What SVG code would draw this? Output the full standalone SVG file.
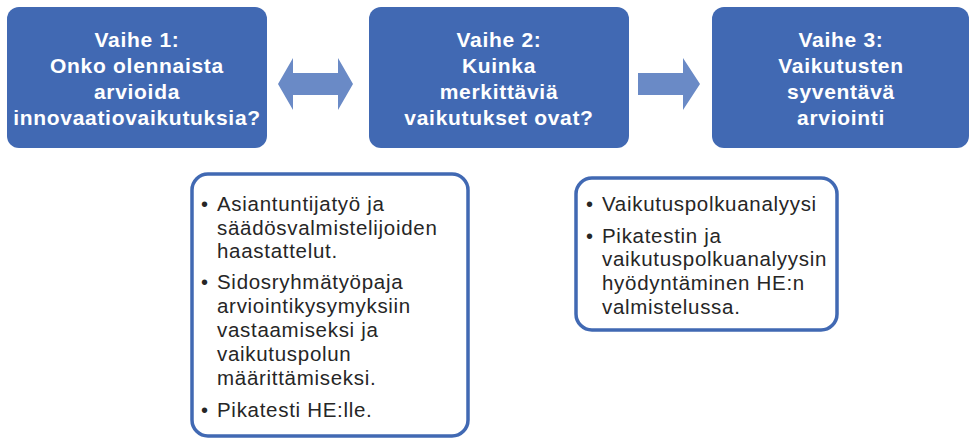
<svg xmlns="http://www.w3.org/2000/svg" width="969" height="439" viewBox="0 0 969 439">
<style>
.phase{fill:#4169b3;}
.ptxt{font-family:"Liberation Sans",Arial,sans-serif;font-weight:700;font-size:21px;fill:#ffffff;text-anchor:middle;letter-spacing:0.7px;}
.arrow{fill:#6a8ac6;}
.note{fill:#ffffff;stroke:#4169b3;stroke-width:3.5;}
.ntxt{font-family:"Liberation Sans",Arial,sans-serif;font-size:20.5px;fill:#262626;letter-spacing:0.7px;}
.bul{font-family:"Liberation Sans",Arial,sans-serif;font-size:20px;fill:#262626;}
</style>
<rect width="969" height="439" fill="#ffffff"/>
<g id="phase1">
<rect class="phase" x="7" y="7" width="260" height="141" rx="12"/>
<text class="ptxt" x="137" y="47">Vaihe 1:</text>
<text class="ptxt" x="137" y="73">Onko olennaista</text>
<text class="ptxt" x="137" y="99">arvioida</text>
<text class="ptxt" x="137" y="125">innovaatiovaikutuksia?</text>
</g>
<g id="phase2">
<rect class="phase" x="369" y="7" width="260" height="141" rx="12"/>
<text class="ptxt" x="499" y="47">Vaihe 2:</text>
<text class="ptxt" x="499" y="73">Kuinka</text>
<text class="ptxt" x="499" y="99">merkittäviä</text>
<text class="ptxt" x="499" y="125">vaikutukset ovat?</text>
</g>
<g id="phase3">
<rect class="phase" x="712" y="7" width="257" height="141" rx="12"/>
<text class="ptxt" x="841" y="47">Vaihe 3:</text>
<text class="ptxt" x="841" y="73">Vaikutusten</text>
<text class="ptxt" x="841" y="99">syventävä</text>
<text class="ptxt" x="841" y="125">arviointi</text>
</g>
<g id="connectors">
<polygon class="arrow" points="278,84 293,58 293,73 338,73 338,58 353,84 338,110 338,95 293,95 293,110"/>
<polygon class="arrow" points="638,73 683,73 683,58 700,84 683,110 683,95 638,95"/>
</g>
<g id="notes1">
<rect class="note" x="192" y="174" width="276" height="262" rx="16"/>
<text class="bul" x="201" y="211">•</text>
<text class="ntxt" x="217" y="211">Asiantuntijatyö ja</text>
<text class="ntxt" x="217" y="235">säädösvalmistelijoiden</text>
<text class="ntxt" x="217" y="258">haastattelut.</text>
<text class="bul" x="201" y="289">•</text>
<text class="ntxt" x="217" y="289">Sidosryhmätyöpaja</text>
<text class="ntxt" x="217" y="313">arviointikysymyksiin</text>
<text class="ntxt" x="217" y="337">vastaamiseksi ja</text>
<text class="ntxt" x="217" y="361">vaikutuspolun</text>
<text class="ntxt" x="217" y="385">määrittämiseksi.</text>
<text class="bul" x="201" y="417">•</text>
<text class="ntxt" x="217" y="417">Pikatesti HE:lle.</text>
</g>
<g id="notes2">
<rect class="note" x="576" y="178" width="261" height="152" rx="16"/>
<text class="bul" x="586" y="211">•</text>
<text class="ntxt" x="602" y="211">Vaikutuspolkuanalyysi</text>
<text class="bul" x="586" y="243">•</text>
<text class="ntxt" x="602" y="243">Pikatestin ja</text>
<text class="ntxt" x="602" y="266">vaikutuspolkuanalyysin</text>
<text class="ntxt" x="602" y="290">hyödyntäminen HE:n</text>
<text class="ntxt" x="602" y="314">valmistelussa.</text>
</g>
</svg>
